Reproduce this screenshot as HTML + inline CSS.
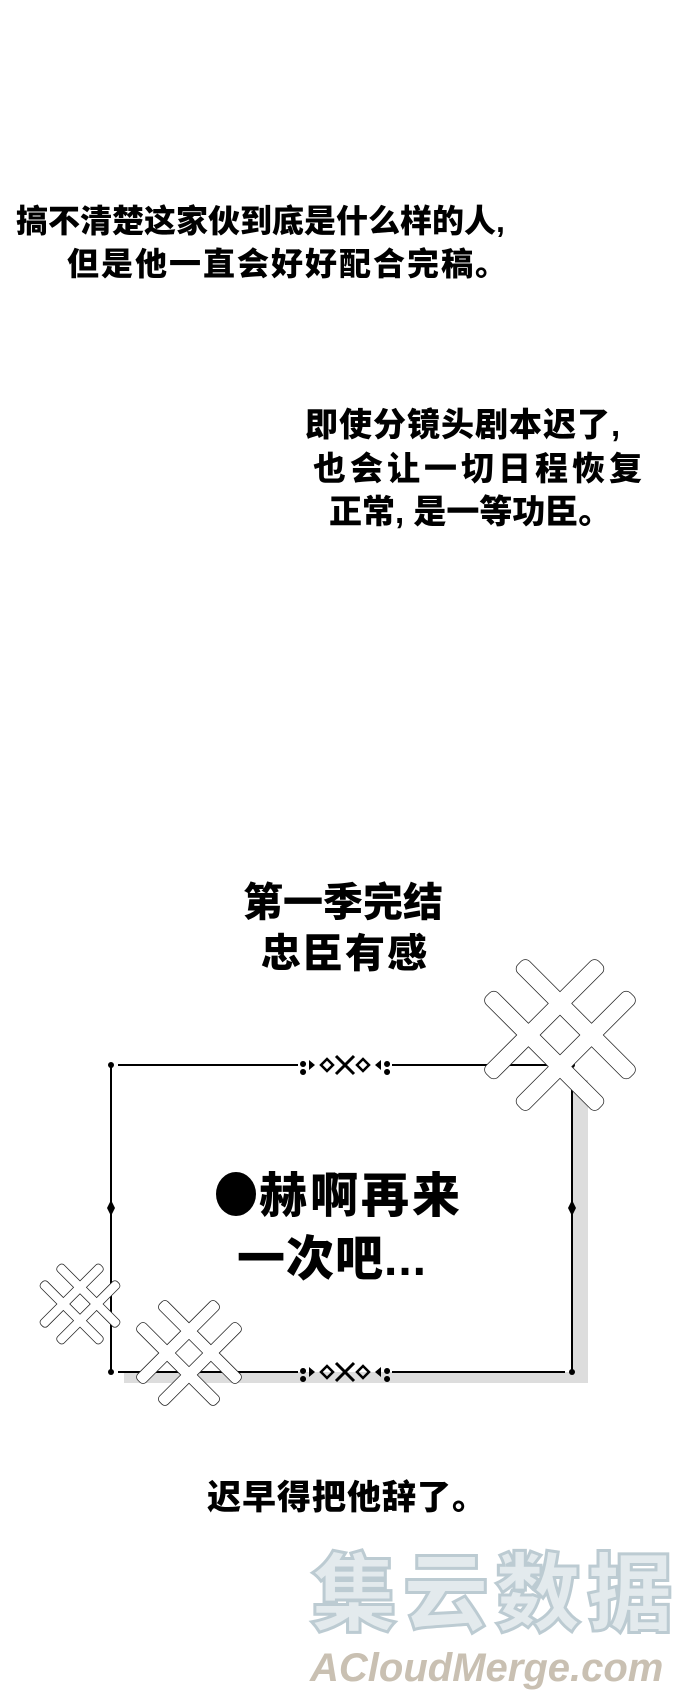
<!DOCTYPE html>
<html><head><meta charset="utf-8"><style>
html,body{margin:0;padding:0;background:#fff}
body{width:690px;height:1684px;position:relative;overflow:hidden;font-family:"Liberation Sans","Noto Sans CJK SC",sans-serif;color:#000}
.t{position:absolute;font-weight:900;white-space:nowrap;line-height:1}
</style></head><body>
<div class="t" style="left:16px;top:205px;font-size:32px;letter-spacing:0px">搞不清楚这家伙到底是什么样的人,</div>
<div class="t" style="left:67px;top:248px;font-size:32px;letter-spacing:2px">但是他一直会好好配合完稿。</div>
<div class="t" style="left:305px;top:408px;font-size:33px;letter-spacing:1px">即使分镜头剧本迟了,</div>
<div class="t" style="left:313px;top:452px;font-size:33px;letter-spacing:4px">也会让一切日程恢复</div>
<div class="t" style="left:329px;top:495px;font-size:33px;letter-spacing:0px">正常, 是一等功臣。</div>
<div class="t" style="left:243px;top:883px;font-size:40px;letter-spacing:0px">第一季完结</div>
<div class="t" style="left:261px;top:934px;font-size:40px;letter-spacing:2px">忠臣有感</div>

<svg width="690" height="1684" style="position:absolute;left:0;top:0">
  <defs>
    <g id="sp">
      <g stroke="#222" stroke-width="1.5" fill="#222" vector-effect="non-scaling-stroke">
        <rect x="-110" y="-42" width="220" height="22" rx="8" vector-effect="non-scaling-stroke"/>
        <rect x="-110" y="20" width="220" height="22" rx="8" vector-effect="non-scaling-stroke"/>
        <rect x="-42" y="-110" width="22" height="220" rx="8" vector-effect="non-scaling-stroke"/>
        <rect x="20" y="-110" width="22" height="220" rx="8" vector-effect="non-scaling-stroke"/>
      </g>
      <g fill="#fff">
        <rect x="-110" y="-42" width="220" height="22" rx="8"/>
        <rect x="-110" y="20" width="220" height="22" rx="8"/>
        <rect x="-42" y="-110" width="22" height="220" rx="8"/>
        <rect x="20" y="-110" width="22" height="220" rx="8"/>
      </g>
    </g>
    <g id="orn">
      <path d="M-30 0 l-6 -5 l0 10z M-42 -4 a3 3 0 1 0 0.1 0z M-42 4 a3 3 0 1 0 0.1 0z" fill="#000"/>
      <path d="M-24 0 l6 -6 l6 6 l-6 6z M12 0 l6 -6 l6 6 l-6 6z" fill="none" stroke="#000" stroke-width="2.5"/>
      <path d="M-9 -9 L9 9 M9 -9 L-9 9" stroke="#000" stroke-width="3"/>
      <path d="M30 0 l6 -5 l0 10z M42 -4 a3 3 0 1 0 0.1 0z M42 4 a3 3 0 1 0 0.1 0z" fill="#000"/>
    </g>
  </defs>
  <rect x="572" y="1080" width="16" height="303" fill="#ddd"/>
  <rect x="124" y="1372" width="464" height="11" fill="#ddd"/>
  <g stroke="#000" stroke-width="2" fill="none">
    <line x1="111" y1="1065" x2="111" y2="1372"/>
    <line x1="572" y1="1065" x2="572" y2="1372"/>
    <line x1="118" y1="1065" x2="298" y2="1065"/>
    <line x1="392" y1="1065" x2="565" y2="1065"/>
    <line x1="118" y1="1372" x2="298" y2="1372"/>
    <line x1="392" y1="1372" x2="565" y2="1372"/>
  </g>
  <circle cx="111" cy="1065" r="3"/><circle cx="572" cy="1065" r="3"/>
  <circle cx="111" cy="1372" r="3"/><circle cx="572" cy="1372" r="3"/>
  <path d="M111 1200 l-4 8 l4 8 l4 -8z M572 1200 l-4 8 l4 8 l4 -8z" fill="#000"/>
  <use href="#orn" x="345" y="1065"/>
  <use href="#orn" x="345" y="1372"/>
  <g transform="translate(560 1035) rotate(45) scale(0.72)"><use href="#sp"/></g>
  <g transform="translate(80 1304) rotate(45) scale(0.38)"><use href="#sp"/></g>
  <g transform="translate(189 1353) rotate(45) scale(0.5)"><use href="#sp"/></g>
</svg>

<div class="t" style="left:216px;top:1172px;font-size:48px;letter-spacing:3px"><span style="display:inline-block;width:40px;height:44px;border-radius:50%;background:#000;vertical-align:-4px;margin-right:3px"></span>赫啊再来</div>
<div class="t" style="left:237px;top:1236px;font-size:48px;letter-spacing:1px">一次吧...</div>
<div class="t" style="left:207px;top:1481px;font-size:34px;letter-spacing:1px">迟早得把他辞了。</div>

<div class="t" style="left:311px;top:1552px;font-size:86px;letter-spacing:6px;color:#e3eaed;-webkit-text-stroke:3px #bccbd2">集云数据</div>
<div class="t" style="left:310px;top:1648px;font-size:40px;font-style:italic;color:#c9c0b2;font-family:'Liberation Sans',sans-serif">ACloudMerge.com</div>
</body></html>
